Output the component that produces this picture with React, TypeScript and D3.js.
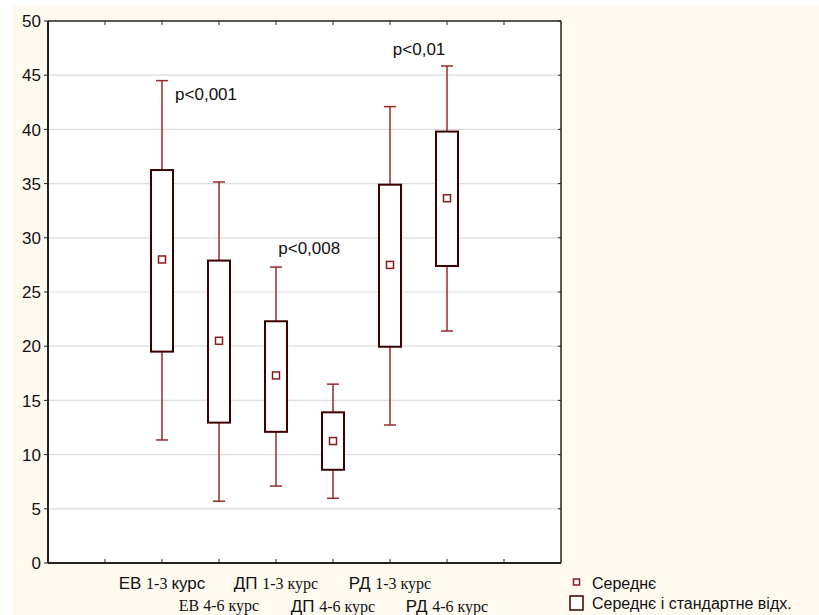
import React from "react";
import * as d3 from "d3";

const groups = ["ЕВ 1-3", "ЕВ 4-6", "ДП 1-3", "ДП 4-6", "РД 1-3", "РД 4-6"];
const positions = [2, 3, 4, 5, 6, 7];
const means = [28.0, 20.5, 17.3, 11.25, 27.5, 33.65];
const boxTop = [36.25, 27.9, 22.3, 13.9, 34.9, 39.8];
const boxBottom = [19.5, 12.95, 12.1, 8.6, 19.95, 27.4];
const whiskerTop = [44.5, 35.15, 27.3, 16.5, 42.1, 45.85];
const whiskerBottom = [11.35, 5.7, 7.1, 5.97, 12.73, 21.4];
const yTicks = [0, 5, 10, 15, 20, 25, 30, 35, 40, 45, 50];
const xTicks = [1, 2, 3, 4, 5, 6, 7, 8];
const pText = ["p<0,001", "p<0,008", "p<0,01"];
const pX = [2.23, 4.04, 6.05];
const pY = [43.3, 29.05, 47.4];

const SANS = "'Liberation Sans', Arial, sans-serif";
const SERIF = "'Liberation Serif', 'Times New Roman', serif";

export default function App() {
  const W = 819, H = 615;
  const left = 48, right = 561, top = 21, bottom = 563;
  const x = d3.scaleLinear().domain([0, 9]).range([left, right]);
  const y = d3.scaleLinear().domain([0, 50]).range([bottom, top]);
  const boxW = 22, capW = 12, markS = 7;
  const boxColor = "#3d0000";
  const whiskColor = "#9a2a2a";
  const markColor = "#8b1a1a";

  return (
    <svg width={W} height={H} style={{ position: "absolute", left: 0, top: 0 }}>
      <rect x={0} y={0} width={W} height={H} fill="#ffffff" />
      <rect x={12} y={5} width={W - 12} height={H - 5} fill="#fffaf0" />
      <rect x={left} y={top} width={right - left} height={bottom - top} fill="#ffffff" />
      {yTicks.filter(t => t > 0 && t < 50).map(t => (
        <line key={"g" + t} x1={left} x2={right} y1={y(t)} y2={y(t)} stroke="#dcdcdc" strokeWidth={1.2} />
      ))}
      {yTicks.map(t => (
        <g key={"yt" + t}>
          <line x1={left - 4} x2={left} y1={y(t)} y2={y(t)} stroke="#222" strokeWidth={1} />
          <line x1={right - 3} x2={right} y1={y(t)} y2={y(t)} stroke="#222" strokeWidth={1} />
          <text x={41} y={y(t)} dy="0.36em" textAnchor="end" fontFamily={SANS} fontSize={17} fill="#111">{t}</text>
        </g>
      ))}
      {xTicks.map(t => (
        <g key={"xt" + t}>
          <line x1={x(t)} x2={x(t)} y1={bottom} y2={bottom - 4} stroke="#222" strokeWidth={1} />
          <line x1={x(t)} x2={x(t)} y1={top} y2={top + 4} stroke="#222" strokeWidth={1} />
        </g>
      ))}
      <line x1={left} x2={right} y1={top} y2={top} stroke="#222" strokeWidth={1.5} />
      <line x1={right} x2={right} y1={top} y2={bottom} stroke="#222" strokeWidth={1.5} />
      <line x1={left} x2={right} y1={bottom} y2={bottom} stroke="#222" strokeWidth={2} />
      <line x1={left} x2={left} y1={top} y2={bottom} stroke="#222" strokeWidth={2} />
      {groups.map((g, i) => {
        const cx = x(positions[i]);
        return (
          <g key={g}>
            <line x1={cx} x2={cx} y1={y(whiskerTop[i])} y2={y(boxTop[i])} stroke={whiskColor} strokeWidth={1.5} />
            <line x1={cx} x2={cx} y1={y(boxBottom[i])} y2={y(whiskerBottom[i])} stroke={whiskColor} strokeWidth={1.5} />
            <line x1={cx - capW / 2} x2={cx + capW / 2} y1={y(whiskerTop[i])} y2={y(whiskerTop[i])} stroke={whiskColor} strokeWidth={1.5} />
            <line x1={cx - capW / 2} x2={cx + capW / 2} y1={y(whiskerBottom[i])} y2={y(whiskerBottom[i])} stroke={whiskColor} strokeWidth={1.5} />
            <rect x={cx - boxW / 2} y={y(boxTop[i])} width={boxW} height={y(boxBottom[i]) - y(boxTop[i])} fill="#ffffff" stroke={boxColor} strokeWidth={2} />
            <rect x={cx - markS / 2} y={y(means[i]) - markS / 2} width={markS} height={markS} fill="#ffffff" stroke={markColor} strokeWidth={1.5} />
          </g>
        );
      })}
      {pText.map((t, i) => (
        <text key={t} x={x(pX[i])} y={y(pY[i])} dy="0.36em" fontFamily={SANS} fontSize={17} fill="#111">{t}</text>
      ))}
      <text x={x(2)} y={589} textAnchor="middle" fill="#111">
        <tspan fontFamily={SANS} fontSize={17}>ЕВ </tspan>
        <tspan fontFamily={SERIF} fontSize={16}>1-3 </tspan>
        <tspan fontFamily={SANS} fontSize={17}>курс</tspan>
      </text>
      <text x={x(3)} y={611} textAnchor="middle" fill="#111" fontFamily={SERIF} fontSize={16}>ЕВ 4-6 курс</text>
      <text x={x(4)} y={589} textAnchor="middle" fill="#111">
        <tspan fontFamily={SANS} fontSize={17}>ДП </tspan>
        <tspan fontFamily={SERIF} fontSize={16}>1-3 курс</tspan>
      </text>
      <text x={x(5)} y={612} textAnchor="middle" fill="#111">
        <tspan fontFamily={SANS} fontSize={17}>ДП </tspan>
        <tspan fontFamily={SERIF} fontSize={16}>4-6 курс</tspan>
      </text>
      <text x={x(6)} y={589} textAnchor="middle" fill="#111">
        <tspan fontFamily={SANS} fontSize={17}>РД </tspan>
        <tspan fontFamily={SERIF} fontSize={16}>1-3 курс</tspan>
      </text>
      <text x={x(7)} y={612} textAnchor="middle" fill="#111">
        <tspan fontFamily={SANS} fontSize={17}>РД </tspan>
        <tspan fontFamily={SERIF} fontSize={16}>4-6 курс</tspan>
      </text>
      <rect x={573.5} y={579} width={6} height={6} fill="#ffffff" stroke={markColor} strokeWidth={1.5} />
      <text x={592} y={583} dy="0.36em" fontFamily={SANS} fontSize={16} fill="#111">Середнє</text>
      <rect x={570} y={596} width={13} height={14} fill="#ffffff" stroke={boxColor} strokeWidth={1.5} />
      <text x={592} y={603} dy="0.36em" fontFamily={SANS} fontSize={16} fill="#111">Середнє і стандартне відх.</text>
    </svg>
  );
}
